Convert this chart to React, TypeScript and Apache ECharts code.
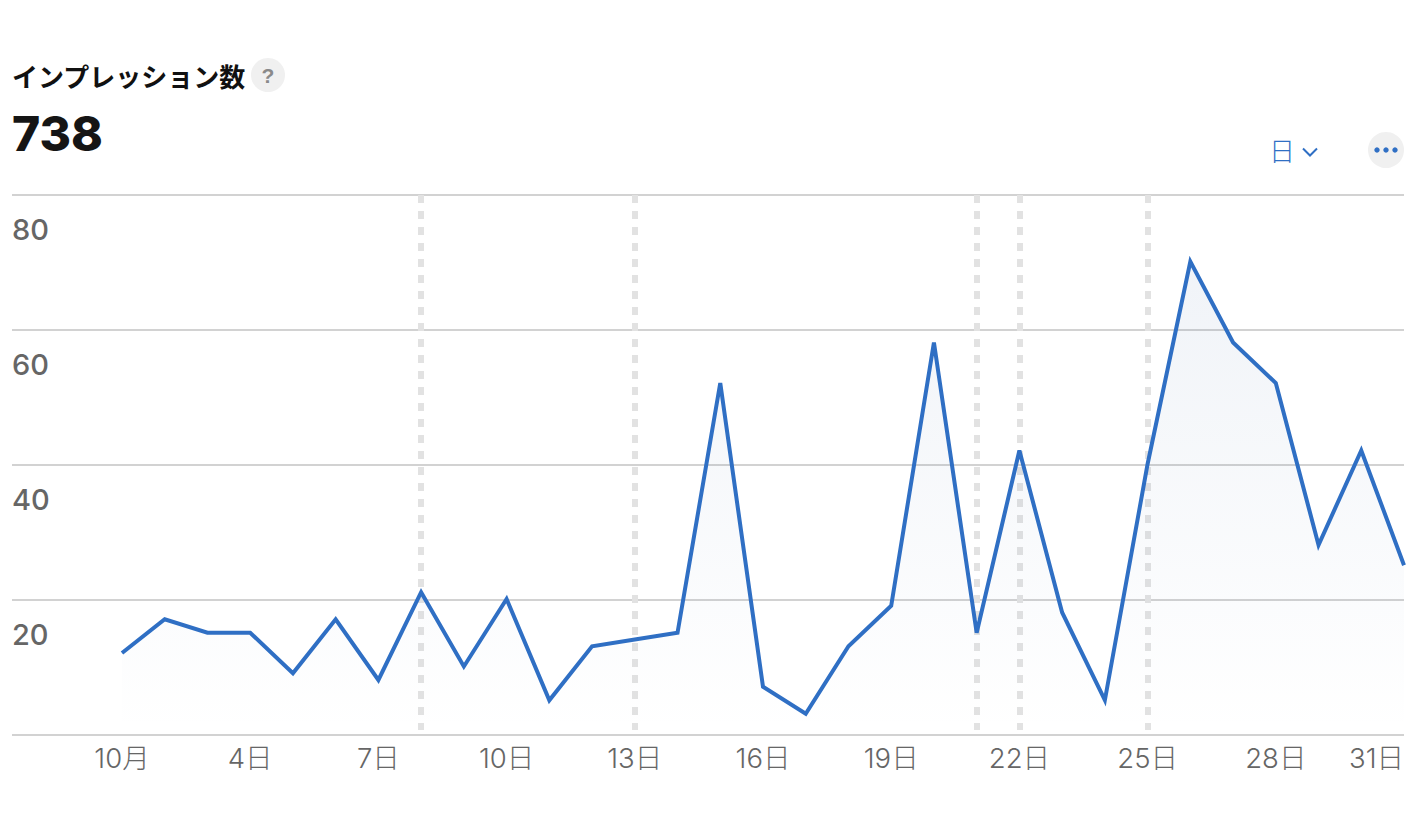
import React, { useEffect, useRef } from "react";
import * as echarts from "echarts";

const days = [1,2,3,4,5,6,7,8,9,10,11,12,13,14,15,16,17,18,19,20,21,22,23,24,25,26,27,28,29,30,31];
const impressions = [12,17,15,15,9,17,8,21,10,20,5,13,14,15,52,7,3,13,19,58,15,42,18,5,40,70,58,52,28,42,25];
const markerDays = [8,13,21,22,25];
const tickDays = [1,4,7,10,13,16,19,22,25,28,31];
const yTicks = [20,40,60,80];
const title = "インプレッション数";
const total = "738";
const periodLabel = "日";

const FONT = '"Noto Sans CJK JP", "Liberation Sans", sans-serif';
const LABEL_FONT = 'Inter, "Noto Sans CJK JP", sans-serif';
const BLUE = "#2f6fc4";

export default function App() {
  const ref = useRef<HTMLDivElement>(null);
  useEffect(() => {
    document.body.style.margin = "0";
    const chart = echarts.init(ref.current!, null, { renderer: "svg" });
    const L = 12, R = 1404, T = 195, B = 735;
    const xMin = 1 - (122 - L) / 42.735;
    chart.setOption({
      animation: false,
      grid: { left: L, top: T, width: R - L, height: B - T, containLabel: false },
      xAxis: {
        type: "value",
        min: xMin,
        max: 31,
        splitLine: { show: false },
        axisLine: { show: false },
        axisTick: { show: false },
        axisLabel: {
          customValues: tickDays,
          color: "#666",
          fontFamily: LABEL_FONT,
          fontSize: 27.5,
          fontWeight: 300,
          margin: 9,
          hideOverlap: false,
          showMaxLabel: true,
          alignMaxLabel: "right",
          formatter: (v: number) => (v === 1 ? "10月" : `${v}日`),
        },
      },
      yAxis: [
        {
          type: "value",
          min: 0,
          max: 80,
          interval: 20,
          axisLine: { show: false },
          axisTick: { show: false },
          splitLine: { show: true, lineStyle: { color: "#d2d2d2", width: 2 } },
          axisLabel: {
            inside: true,
            margin: 0,
            color: "#666",
            fontFamily: LABEL_FONT,
            fontSize: 29,
            fontWeight: 500,
            verticalAlign: "top",
            padding: [20, 0, 0, 0],
            customValues: yTicks,
          },
        },
        {
          type: "value",
          min: -0.15,
          max: 79.85,
          show: false,
        },
      ],
      series: [
        {
          type: "line",
          yAxisIndex: 1,
          data: days.map((d, i) => [d, impressions[i]]),
          symbol: "none",
          z: 5,
          clip: true,
          lineStyle: { color: BLUE, width: 4, join: "miter", miterLimit: 10 },
          areaStyle: {
            color: new echarts.graphic.LinearGradient(0, 0, 0, 1, [
              { offset: 0, color: "rgba(45,90,155,0.1)" },
              { offset: 1, color: "rgba(45,90,155,0)" },
            ]),
          },
          markLine: {
            silent: true,
            symbol: "none",
            z: 1,
            label: { show: false },
            lineStyle: { color: "#e2e2e2", width: 6, type: [8, 8], opacity: 1 },
            data: markerDays.map((d) => [{ coord: [d, 79.85] }, { coord: [d, 0.6] }]),
          },
        },
      ],
      graphic: [
        { type: "text", x: 12, y: 62, style: { text: title, font: `600 26px ${FONT}`, fill: "#111" } },
        { type: "circle", shape: { cx: 268, cy: 75, r: 17 }, style: { fill: "#f0f0f0" } },
        { type: "text", x: 268, y: 75, style: { text: "?", font: 'bold 21px "Liberation Sans"', fill: "#8a8a8a", align: "center", verticalAlign: "middle" } },
        { type: "text", x: 12, y: 109, style: { text: total, font: "800 48px Inter", fill: "#151515" } },
        { type: "text", x: 1282, y: 149, style: { text: periodLabel, font: `300 26px ${FONT}`, fill: BLUE, align: "center", verticalAlign: "middle" } },
        { type: "polyline", shape: { points: [[1303, 148.5], [1310, 155.5], [1317, 148.5]] }, style: { stroke: BLUE, lineWidth: 2, fill: "none" } },
        { type: "circle", shape: { cx: 1386, cy: 150, r: 18 }, style: { fill: "#f0f0f0" } },
        { type: "circle", shape: { cx: 1377, cy: 150, r: 2.7 }, style: { fill: BLUE } },
        { type: "circle", shape: { cx: 1386, cy: 150, r: 2.7 }, style: { fill: BLUE } },
        { type: "circle", shape: { cx: 1395, cy: 150, r: 2.7 }, style: { fill: BLUE } },
      ],
    });
    return () => chart.dispose();
  }, []);
  return <div ref={ref} style={{ width: 1422, height: 824, position: "absolute", left: 0, top: 0 }} />;
}
